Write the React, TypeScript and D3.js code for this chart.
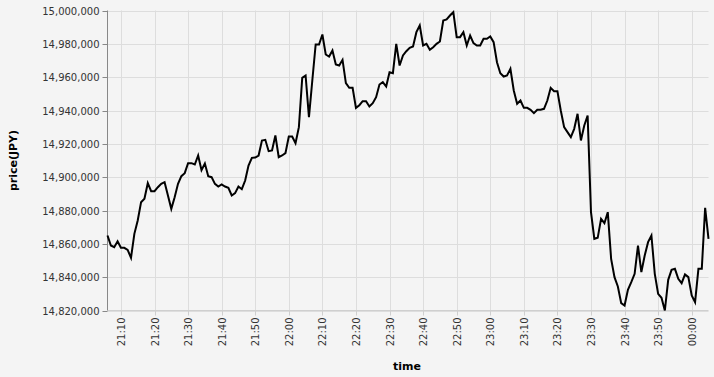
import React from "react";
import * as d3 from "d3";

const START_TIME = "2021-01-01T21:06:00";
const PRICES: number[] = [
  14865000, 14859000, 14858000, 14861500, 14857600, 14857600, 14856400, 14851600, 14866000, 14874000,
  14885000, 14887000, 14896400, 14891600, 14891600, 14894000, 14896000, 14897000, 14889000, 14881000,
  14888000, 14896000, 14900600, 14902400, 14908400, 14908400, 14907600, 14913000, 14904200, 14908200,
  14900600, 14900000, 14896000, 14894400, 14895600, 14894400, 14893600, 14889000, 14890400, 14894400,
  14892800, 14898000, 14907000, 14911600, 14911800, 14913000, 14922000, 14922400, 14915600, 14916000,
  14925000, 14912000, 14913000, 14914400, 14924400, 14924400, 14920400, 14930000, 14959600, 14961000,
  14936000, 14958000, 14979600, 14979600, 14985600, 14973600, 14972400, 14976000, 14967600, 14967000,
  14970400, 14956400, 14953600, 14953600, 14941600, 14943200, 14945600, 14945600, 14942400, 14944400,
  14948000, 14955600, 14957000, 14954400, 14963000, 14962400, 14980000, 14967000, 14973000, 14975600,
  14977600, 14978400, 14987000, 14991000, 14979000, 14980000, 14976400, 14978000, 14980000, 14981400,
  14994000, 14994600, 14997000, 14999000, 14984000, 14984000, 14987000, 14979000, 14985000, 14980400,
  14979000, 14979000, 14983000, 14983000, 14984400, 14981000, 14969000, 14962400, 14960400, 14961000,
  14965000, 14952000, 14944000, 14946000, 14941600, 14941600, 14940400, 14938400, 14940400, 14940400,
  14941000, 14946000, 14953600, 14951600, 14951600, 14940000, 14930000, 14927000, 14924000, 14929000,
  14938000, 14922000, 14931000, 14937000, 14879000, 14863000, 14863600, 14875000, 14872400, 14879000,
  14851000, 14840000, 14834400, 14824400, 14823000, 14832400, 14837000, 14842000, 14859000, 14843000,
  14853000, 14861000, 14865000, 14842000, 14830000, 14827600, 14820000, 14838400, 14844400, 14845000,
  14839000, 14836400, 14841600, 14840000, 14829000, 14825000, 14845000, 14845000, 14881600, 14863000,
];
const Y_TICKS = [14820000, 14840000, 14860000, 14880000, 14900000, 14920000, 14940000, 14960000, 14980000, 15000000];
const X_TITLE = "time";
const Y_TITLE = "price(JPY)";

const W = 714;
const H = 377;
const LEFT = 107.5;
const RIGHT = 708.5;
const TOP = 10.5;
const BOTTOM = 310.5;
const FONT = "DejaVu Sans, sans-serif";

export default function App() {
  const start = new Date(START_TIME);
  const data = PRICES.map((p, i) => ({ t: d3.timeMinute.offset(start, i), p }));
  const x = d3
    .scaleTime()
    .domain(d3.extent(data, (d) => d.t) as [Date, Date])
    .range([LEFT, RIGHT]);
  const y = d3.scaleLinear().domain([14820000, 15000000]).range([BOTTOM, TOP]);
  const xTicks = x.ticks(d3.timeMinute.every(10)!);
  const fmtT = d3.timeFormat("%H:%M");
  const fmtY = d3.format(",");
  const line = d3
    .line<{ t: Date; p: number }>()
    .x((d) => x(d.t))
    .y((d) => y(d.p));

  return (
    <svg
      width={W}
      height={H}
      style={{ position: "absolute", left: 0, top: 0, background: "#f4f4f4" }}
    >
      <rect x={0} y={0} width={W} height={H} fill="#f4f4f4" />
      {/* grid */}
      {Y_TICKS.map((v) => (
        <line key={"gy" + v} x1={LEFT} x2={RIGHT} y1={Math.round(y(v)) + 0.5} y2={Math.round(y(v)) + 0.5} stroke="#dddddd" strokeWidth={1} />
      ))}
      {xTicks.map((t) => (
        <line key={"gx" + t.getTime()} x1={Math.round(x(t)) + 0.5} x2={Math.round(x(t)) + 0.5} y1={TOP} y2={BOTTOM} stroke="#dddddd" strokeWidth={1} />
      ))}
      {/* x axis */}
      <line x1={LEFT} x2={RIGHT} y1={BOTTOM} y2={BOTTOM} stroke="#cfcfcf" />
      {xTicks.map((t) => {
        const xp = Math.round(x(t)) + 0.5;
        return (
          <g key={"xt" + t.getTime()}>
            <line x1={xp} x2={xp} y1={BOTTOM} y2={BOTTOM + 5} stroke="#cfcfcf" />
            <text
              transform={`translate(${xp + 3.5},${BOTTOM + 7}) rotate(-90)`}
              textAnchor="end"
              fontFamily={FONT}
              fontSize={10}
              fill="#333"
            >
              {fmtT(t)}
            </text>
          </g>
        );
      })}
      {/* y axis */}
      <line x1={LEFT} x2={LEFT} y1={TOP} y2={BOTTOM} stroke="#888" />
      {Y_TICKS.map((v) => {
        const yp = Math.round(y(v)) + 0.5;
        return (
          <g key={"yt" + v}>
            <line x1={LEFT - 5} x2={LEFT} y1={yp} y2={yp} stroke="#888" />
            <text x={LEFT - 8} y={yp + 3.5} textAnchor="end" fontFamily={FONT} fontSize={10} fill="#333">
              {fmtY(v)}
            </text>
          </g>
        );
      })}
      {/* line */}
      <path d={line(data) || ""} fill="none" stroke="#000" strokeWidth={2} strokeLinejoin="miter" />
      {/* titles */}
      <text x={407} y={370} textAnchor="middle" fontFamily={FONT} fontSize={11} fontWeight="bold" fill="#000">
        {X_TITLE}
      </text>
      <text
        transform={`translate(17,${(TOP + BOTTOM) / 2}) rotate(-90)`}
        textAnchor="middle"
        fontFamily={FONT}
        fontSize={11}
        fontWeight="bold"
        fill="#000"
      >
        {Y_TITLE}
      </text>
    </svg>
  );
}
